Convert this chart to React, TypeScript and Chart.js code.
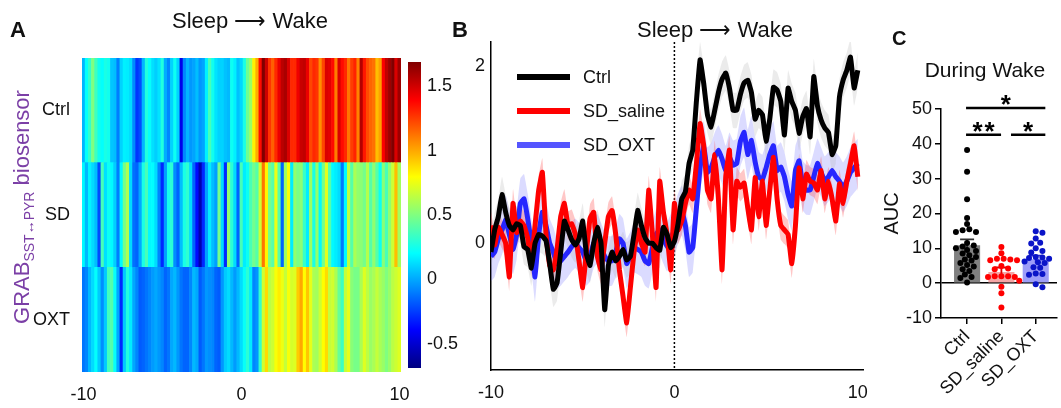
import React, { useEffect, useRef } from 'react';
import { Chart, registerables } from 'chart.js';

Chart.register(...registerables);

const FONT = "'Liberation Sans', Arial, Helvetica, sans-serif";
Chart.defaults.font.family = FONT;
Chart.defaults.color = '#111';

// ---------- data ----------
const timeS = Array.from({ length: 101 }, (_, i) => Math.round((-10 + i * 0.2) * 10) / 10);

const ctrlTrace = [
  -0.1, 0.15, 0.3, 0.55, 0.35, 0.2, 0.15, 0.22, 0.2, -0.04,
  -0.07, -0.28, 0.0, 0.1, 0.08, 0.03, -0.23, -0.52, -0.45, -0.1,
  0.25, 0.15, 0.04, -0.02, 0.05, 0.25, -0.12, -0.25, 0.0, 0.18,
  0.0, -0.75, -0.25, -0.1, -0.2, -0.15, -0.07, -0.19, -0.15, 0.1,
  0.37, 0.2, 0.06, 0.0, 0.0, -0.05, -0.08, 0.18, 0.1, -0.05,
  0.02, 0.22, 0.5, 0.58, 0.9, 1.05, 1.6, 2.07, 1.8, 1.45,
  1.31, 1.5, 1.7, 1.85, 1.92, 1.75, 1.5, 1.5, 1.68, 1.81,
  1.84, 1.7, 1.4, 1.5, 1.45, 1.15, 1.4, 1.76, 1.73, 1.6,
  1.22, 1.75, 1.6, 1.5, 1.24, 1.43, 1.52, 1.2, 1.88, 1.55,
  1.39, 1.3, 1.25, 1.0, 1.1, 1.65, 1.84, 1.95, 2.1, 1.75,
  1.95,
];
const salineTrace = [
  0.2, -0.02, 0.18, 0.1, 0.0, -0.38, 0.45, 0.12, 0.25, 0.2,
  0.06, -0.22, 0.2, 0.6, 0.8, 0.1, -0.25, -0.3, -0.07, 0.3,
  0.45, 0.2, 0.22, 0.1, -0.2, -0.5, -0.1, 0.28, 0.35, -0.15,
  -0.3, 0.0, 0.3, 0.37, 0.1, -0.3, -0.6, -0.9, -0.5, -0.1,
  0.15, 0.0, -0.1, 0.6, 0.1, -0.5, 0.7, 0.35, 0.1, -0.3,
  0.45, 0.15, 0.25, 0.45, 0.6, 0.5, 0.9, 1.35, 1.1, 0.6,
  0.5, 1.0, 0.5, -0.3, 0.75, 1.05, 0.15, 0.7, 0.63, 0.68,
  0.4, 0.15, 0.74, 0.3, 0.7, 0.2, 0.6, 0.97, 0.5, 0.2,
  0.15, 0.1, -0.23, 0.2, 0.85, 0.5, 0.78, 0.7, 0.68, 0.6,
  0.82, 0.5, 0.7, 0.5, 0.25, 0.67, 0.45, 0.7, 0.9, 1.1,
  0.75,
];
const oxtTrace = [
  -0.15, -0.1, 0.05, 0.15, 0.26, 0.1, -0.07, 0.1, 0.45, 0.5,
  0.28, 0.0, -0.38, 0.1, 0.35, 0.2, 0.0, -0.1, -0.23, -0.2,
  -0.15, -0.1, -0.04, 0.0, -0.05, -0.1, -0.2, -0.15, 0.0, 0.05,
  -0.05, -0.15, -0.2, -0.2, -0.1, 0.05, 0.0, -0.23, -0.15, -0.05,
  -0.07, -0.1, -0.2, -0.23, -0.05, 0.1, 0.15, 0.05, -0.04, 0.05,
  0.15, 0.28, 0.37, 0.2, -0.1, -0.05, 0.4, 0.85, 1.1, 0.8,
  0.85, 0.97, 1.05, 0.95, 0.82, 0.97, 0.88, 0.9, 1.15, 1.25,
  1.0, 1.16, 0.92, 0.75, 0.72, 0.85, 1.0, 1.1, 0.82, 0.86,
  0.75, 0.55, 0.42, 0.82, 0.93, 0.65, 0.6, 0.6, 0.75, 0.9,
  0.8, 0.7, 0.75, 0.82, 0.75, 0.7, 0.63, 0.7, 0.8, 0.85,
  0.9,
];
const semCtrl = 0.2;
const semSaline = 0.16;
const semOxt = 0.28;

// heatmap cells (same time bins as the traces)
const heatCtrl = [
  0.03, 0.21, 0.32, 0.5, 0.35, 0.24, 0.21, 0.26, 0.24, 0.07,
  0.05, -0.1, 0.1, 0.17, 0.16, 0.12, -0.07, -0.27, -0.22, 0.03,
  0.28, 0.21, 0.13, 0.09, 0.14, 0.28, 0.01, -0.08, 0.1, 0.23,
  0.1, -0.44, -0.08, 0.03, -0.04, -0.01, 0.05, -0.04, -0.01, 0.17,
  0.37, 0.24, 0.14, 0.1, 0.1, 0.06, 0.04, 0.23, 0.17, 0.06,
  0.11, 0.26, 0.46, 0.56, 0.83, 0.99, 1.37, 1.7, 1.51, 1.27,
  1.17, 1.3, 1.44, 1.55, 1.59, 1.48, 1.3, 1.3, 1.43, 1.52,
  1.54, 1.44, 1.23, 1.3, 1.27, 1.06, 1.23, 1.48, 1.46, 1.37,
  1.1, 1.48, 1.37, 1.3, 1.12, 1.25, 1.31, 1.09, 1.57, 1.34,
  1.22, 1.16, 1.13, 0.95, 1.02, 1.4, 1.54, 1.62, 1.72, 1.48,
  1.62,
];
const heatSd = [
  0.19, 0.04, 0.18, 0.12, 0.05, -0.22, 0.37, 0.13, 0.23, 0.19,
  0.09, -0.1, 0.19, 0.47, 0.61, 0.12, -0.13, -0.16, 0.0, 0.26,
  0.37, 0.19, 0.2, 0.12, -0.09, -0.3, -0.02, 0.25, 0.3, -0.06,
  -0.16, 0.05, 0.26, 0.31, 0.12, -0.16, -0.37, -0.58, -0.3, -0.02,
  0.16, 0.05, -0.02, 0.47, 0.12, -0.3, 0.54, 0.3, 0.12, -0.16,
  0.37, 0.16, 0.23, 0.37, 0.47, 0.4, 0.68, 1.12, 0.82, 0.47,
  0.4, 0.75, 0.4, -0.16, 0.58, 0.79, 0.16, 0.54, 0.49, 0.53,
  0.33, 0.16, 0.57, 0.26, 0.54, 0.19, 0.47, 0.73, 0.4, 0.19,
  0.16, 0.12, -0.11, 0.19, 0.65, 0.4, 0.6, 0.54, 0.53, 0.47,
  0.62, 0.4, 0.54, 0.4, 0.23, 0.52, 0.37, 0.54, 0.68, 0.95,
  0.58,
];
const heatOxt = [
  -0.12, -0.08, 0.04, 0.12, 0.21, 0.08, -0.06, 0.08, 0.36, 0.4,
  0.22, 0.0, -0.3, 0.08, 0.28, 0.16, 0.0, -0.08, -0.18, -0.16,
  -0.12, -0.08, -0.03, 0.0, -0.04, -0.08, -0.16, -0.12, 0.0, 0.04,
  -0.04, -0.12, -0.16, -0.16, -0.08, 0.04, 0.0, -0.18, -0.12, -0.04,
  -0.06, -0.08, -0.16, -0.18, -0.04, 0.08, 0.12, 0.04, -0.03, 0.04,
  0.12, 0.22, 0.3, 0.16, -0.08, -0.04, 0.32, 0.68, 0.88, 0.64,
  0.68, 0.78, 0.84, 0.76, 0.66, 0.78, 0.7, 0.72, 0.92, 1.0,
  0.8, 0.93, 0.74, 0.6, 0.58, 0.68, 0.8, 0.88, 0.66, 0.69,
  0.6, 0.44, 0.34, 0.66, 0.74, 0.52, 0.48, 0.48, 0.6, 0.72,
  0.64, 0.56, 0.6, 0.66, 0.6, 0.56, 0.5, 0.56, 0.64, 0.68,
  0.72,
];

const heatRowLabels = ['Ctrl', 'SD', 'OXT'];
const heatRows = [heatCtrl, heatSd, heatOxt];
const cbMin = -0.69;
const cbMax = 1.69;
const cbTicks = [-0.5, 0, 0.5, 1, 1.5];
const heatXTicks = [-10, 0, 10];
const lineXTicks = [-10, 0, 10];
const lineYTicks = [0, 2];

const aucGroups = ['Ctrl', 'SD_saline', 'SD_OXT'];
const aucCtrl = [38.2, 32, 24.1, 18.7, 17, 15.5, 14.7, 14.7, 15.2, 11.5, 10.8, 10.5, 10, 9.5, 9.2, 8.5, 8, 7.5, 6.8, 6.5, 5.8, 5.2, 4.8, 4, 3.5, 2.5, 1.8, 1.5, 0.2];
const aucSaline = [10.4, 8.6, 7, 6.8, 6.6, 6.6, 7, 4.9, 4.2, 4, 2, 2, 1.8, 1.8, 2, 0.7, -1, -2.9, -7];
const aucOxt = [14.9, 14.5, 12.8, 11.6, 11.4, 10, 9.2, 8.8, 7.5, 7.2, 7.0, 7.4, 6.2, 6.0, 5.8, 4.6, 4.4, 2.8, 2.4, 2.6, -0.3, -1.2];
const aucMean = [10.9, 3.2, 6.9];
const aucSem = [1.7, 1.3, 1.0];
const aucYTicksStep = 10;

// ---------- helpers ----------
function jetRGB(f: number) {
  const c = (x: number) => Math.max(0, Math.min(1, x));
  const r = c(1.5 - Math.abs(4 * f - 3));
  const g = c(1.5 - Math.abs(4 * f - 2));
  const b = c(1.5 - Math.abs(4 * f - 1));
  return `rgb(${Math.round(r * 255)},${Math.round(g * 255)},${Math.round(b * 255)})`;
}
function jetValue(v: number) {
  const f = Math.max(0, Math.min(1, (v - cbMin) / (cbMax - cbMin)));
  return jetRGB(f);
}

function swarm(values: number[], center: number, pxX: number, pxY: number, minDist: number) {
  const order = values.map((_, i) => i).sort((a, b) => values[b] - values[a]);
  const placed: { x: number; y: number }[] = [];
  const out: { x: number; y: number }[] = new Array(values.length);
  const step = 0.065;
  for (const i of order) {
    const py = values[i] * pxY;
    let chosen = 0;
    for (let k = 0; k < 40; k++) {
      const off = (k === 0 ? 0 : (k % 2 === 1 ? 1 : -1) * Math.ceil(k / 2)) * step;
      const px = off * pxX;
      const ok = placed.every((p) => (p.x - px) ** 2 + (p.y - py) ** 2 >= minDist * minDist);
      if (ok) { chosen = off; break; }
    }
    placed.push({ x: chosen * pxX, y: py });
    out[i] = { x: center + chosen, y: values[i] };
  }
  return out;
}

const setTicks = (vals: number[]) => (s: any) => { s.ticks = vals.map((v) => ({ value: v })); };

// ---------- configs ----------
function heatConfig(): any {
  return {
    type: 'bar',
    data: {
      datasets: [2, 1, 0].map((r) => ({
        label: heatRowLabels[r],
        data: timeS.map((t) => ({ x: t, y: 1 })),
        backgroundColor: heatRows[r].map(jetValue),
        borderWidth: 0,
        barPercentage: 1,
        categoryPercentage: 1,
      })),
    },
    options: {
      animation: false,
      responsive: false,
      events: [],
      layout: { padding: { left: 0, top: 58, right: 39, bottom: 6 } },
      plugins: { legend: { display: false }, tooltip: { enabled: false } },
      scales: {
        x: {
          type: 'linear', stacked: true, min: -10.1, max: 10.1, offset: false,
          grid: { display: false, drawTicks: false, offset: false }, border: { display: false },
          afterBuildTicks: setTicks(heatXTicks),
          ticks: { font: { size: 18 }, padding: 12, maxRotation: 0, autoSkip: false, color: '#111' },
          afterFit: (s: any) => { s.height = 30; },
        },
        y: {
          type: 'linear', stacked: true, min: 0, max: 3,
          grid: { display: false, drawTicks: false }, border: { display: false },
          afterBuildTicks: setTicks([0.5, 1.5, 2.5]),
          ticks: { font: { size: 18 }, padding: 12, color: '#111', callback: (v: number) => heatRowLabels[2 - Math.floor(v)] },
          afterFit: (s: any) => { s.width = 82; },
        },
      },
    },
  };
}

function colorbarConfig(): any {
  return {
    type: 'bar',
    data: {
      labels: ['cb'],
      datasets: [{
        data: [[cbMin, cbMax]],
        borderWidth: 0,
        barPercentage: 1,
        categoryPercentage: 1,
        backgroundColor: (c: any) => {
          const chart = c.chart;
          if (!chart.chartArea) return '#888';
          const y = chart.scales.y;
          const g = chart.ctx.createLinearGradient(0, y.getPixelForValue(cbMin), 0, y.getPixelForValue(cbMax));
          for (let i = 0; i <= 48; i++) g.addColorStop(i / 48, jetRGB(i / 48));
          return g;
        },
      }],
    },
    options: {
      animation: false,
      responsive: false,
      events: [],
      layout: { padding: { left: 8, top: 62, right: 0, bottom: 40 } },
      plugins: { legend: { display: false }, tooltip: { enabled: false } },
      scales: {
        x: { display: false },
        y: {
          position: 'right', min: cbMin, max: cbMax,
          grid: { display: false, drawTicks: false }, border: { display: false },
          afterBuildTicks: setTicks(cbTicks),
          ticks: { font: { size: 18 }, padding: 6, color: '#111', callback: (v: number) => String(v) },
          afterFit: (s: any) => { s.width = 51; },
        },
      },
    },
  };
}

const lineSeries = [
  { label: 'Ctrl', values: ctrlTrace, sem: semCtrl, color: '#000000', band: 'rgba(175,175,175,0.25)' },
  { label: 'SD_saline', values: salineTrace, sem: semSaline, color: '#ff0000', band: 'rgba(255,70,70,0.3)' },
  { label: 'SD_OXT', values: oxtTrace, sem: semOxt, color: '#2626ff', band: 'rgba(110,110,255,0.25)' },
];

const wakeMarker = {
  id: 'wakeMarker',
  beforeDatasetsDraw(chart: any) {
    const { ctx, chartArea, scales } = chart;
    const x = scales.x.getPixelForValue(0);
    ctx.save();
    ctx.strokeStyle = '#000';
    ctx.lineWidth = 1.5;
    ctx.setLineDash([2, 2]);
    ctx.beginPath();
    ctx.moveTo(x, chartArea.top);
    ctx.lineTo(x, chartArea.bottom);
    ctx.stroke();
    ctx.restore();
  },
};

const lineLegend = {
  id: 'lineLegend',
  afterDraw(chart: any) {
    const { ctx, chartArea } = chart;
    const items = chart.data.datasets.filter((d: any) => d.isMain);
    ctx.save();
    ctx.font = `18px ${FONT}`;
    ctx.textBaseline = 'middle';
    ctx.fillStyle = '#111';
    items.forEach((d: any, i: number) => {
      const y = chartArea.top + 35 + i * 34;
      const x0 = chartArea.left + 26;
      ctx.strokeStyle = d.legendColor;
      ctx.lineWidth = 6;
      ctx.beginPath();
      ctx.moveTo(x0, y);
      ctx.lineTo(x0 + 53, y);
      ctx.stroke();
      ctx.fillText(d.label, x0 + 66, y + 1);
    });
    ctx.restore();
  },
};

function lineConfig(): any {
  const mains = lineSeries.map((s, j) => ({
    label: s.label,
    isMain: true,
    legendColor: s.label === 'SD_OXT' ? '#5555ff' : s.color,
    data: timeS.map((t, i) => ({ x: t, y: s.values[i] })),
    borderColor: s.color,
    backgroundColor: s.color,
    borderWidth: 5,
    pointRadius: 0,
    tension: 0.1,
    fill: false,
    borderJoinStyle: 'round',
    order: j + 1,
  }));
  const bands: any[] = [];
  lineSeries.forEach((s, j) => {
    bands.push({
      label: s.label + ' upper',
      data: timeS.map((t, i) => ({ x: t, y: s.values[i] + s.sem })),
      borderWidth: 0,
      pointRadius: 0,
      tension: 0.1,
      backgroundColor: s.band,
      fill: '+1',
      order: 10 + j,
    });
    bands.push({
      label: s.label + ' lower',
      data: timeS.map((t, i) => ({ x: t, y: s.values[i] - s.sem })),
      borderWidth: 0,
      pointRadius: 0,
      tension: 0.1,
      fill: false,
      order: 10 + j,
    });
  });
  return {
    type: 'line',
    data: { datasets: [...mains, ...bands] },
    options: {
      animation: false,
      responsive: false,
      events: [],
      layout: { padding: { left: 0, top: 42, right: 13, bottom: 8 } },
      plugins: { legend: { display: false }, tooltip: { enabled: false } },
      scales: {
        x: {
          type: 'linear', min: -10, max: 10.3,
          grid: { display: false, drawTicks: false }, border: { display: true, color: '#000', width: 1.5 },
          afterBuildTicks: setTicks(lineXTicks),
          ticks: { font: { size: 18 }, padding: 12, maxRotation: 0, color: '#111' },
          afterFit: (s: any) => { s.height = 30; },
        },
        y: {
          type: 'linear', min: -1.43, max: 2.27,
          grid: { display: false, drawTicks: false }, border: { display: true, color: '#000', width: 1.5 },
          afterBuildTicks: setTicks(lineYTicks),
          ticks: { font: { size: 18 }, padding: 6, color: '#111' },
          afterFit: (s: any) => { s.width = 51; },
        },
      },
    },
    plugins: [wakeMarker, lineLegend],
  };
}

const barColors = ['#808080', '#f5a6a6', '#9d9df8'];
const dotColors = ['#000000', '#ff0000', '#0a14c8'];
const errColors = ['#333333', '#e00000', '#2a2ad0'];
const sigBrackets = [
  { from: -0.03, to: 2.28, y: 50.3, label: '*' },
  { from: -0.03, to: 0.99, y: 42.6, label: '**' },
  { from: 1.28, to: 2.28, y: 42.6, label: '*' },
];

const aucErrorBars = {
  id: 'aucErrorBars',
  afterDatasetDraw(chart: any, args: any) {
    if (args.index !== 0) return;
    const { ctx, scales } = chart;
    ctx.save();
    ctx.lineWidth = 1.8;
    aucMean.forEach((m, i) => {
      const cx = scales.x.getPixelForValue(i);
      const top = scales.y.getPixelForValue(m + aucSem[i]);
      const bot = scales.y.getPixelForValue(m - aucSem[i]);
      ctx.strokeStyle = errColors[i];
      ctx.beginPath();
      ctx.moveTo(cx, bot);
      ctx.lineTo(cx, top);
      ctx.moveTo(cx - 7, top);
      ctx.lineTo(cx + 7, top);
      ctx.stroke();
    });
    ctx.restore();
  },
};

const aucSig = {
  id: 'aucSig',
  afterDraw(chart: any) {
    const { ctx, scales } = chart;
    ctx.save();
    ctx.strokeStyle = '#000';
    ctx.fillStyle = '#000';
    ctx.lineWidth = 2.5;
    ctx.font = `bold 26px ${FONT}`;
    ctx.textAlign = 'center';
    ctx.textBaseline = 'alphabetic';
    sigBrackets.forEach((b) => {
      const x1 = scales.x.getPixelForValue(b.from);
      const x2 = scales.x.getPixelForValue(b.to);
      const y = scales.y.getPixelForValue(b.y);
      ctx.beginPath();
      ctx.moveTo(x1, y);
      ctx.lineTo(x2, y);
      ctx.stroke();
      const cx = (x1 + x2) / 2;
      if (b.label.length === 2) {
        ctx.fillText('*', cx - 6, y + 5);
        ctx.fillText('*', cx + 6, y + 5);
      } else {
        ctx.fillText('*', cx, y + 5);
      }
    });
    ctx.restore();
  },
};

function aucConfig(): any {
  const pxX = 35.5;
  const pxY = 3.48;
  const groups = [aucCtrl, aucSaline, aucOxt];
  return {
    type: 'bar',
    data: {
      datasets: [
        {
          type: 'bar',
          data: aucMean.map((m, i) => ({ x: i, y: m })),
          backgroundColor: barColors,
          borderWidth: 0,
          barPercentage: 0.76,
          categoryPercentage: 1,
          order: 5,
        },
        ...groups.map((vals, i) => ({
          type: 'scatter',
          data: swarm(vals, i, pxX, pxY, 5.6),
          pointRadius: 3,
          pointBackgroundColor: dotColors[i],
          pointBorderWidth: 0,
          order: 1,
        })),
      ],
    },
    options: {
      animation: false,
      responsive: false,
      events: [],
      layout: { padding: { left: 0, top: 109, right: 0, bottom: 10 } },
      plugins: { legend: { display: false }, tooltip: { enabled: false } },
      scales: {
        x: {
          type: 'linear', min: -0.76, max: 2.62, offset: false,
          grid: { display: true, drawOnChartArea: false, drawTicks: true, tickLength: 6, color: '#000', lineWidth: 1.5, offset: false },
          border: { display: true, color: '#000', width: 1.5 },
          afterBuildTicks: setTicks([0, 1, 2]),
          ticks: { font: { size: 18 }, minRotation: 45, maxRotation: 45, padding: 2, color: '#111', callback: (v: number) => aucGroups[v] },
          afterFit: (s: any) => { s.height = 80; },
        },
        y: {
          type: 'linear', min: -10, max: 50,
          grid: {
            display: true, drawOnChartArea: true, drawTicks: true, tickLength: 6, lineWidth: 1.5,
            color: (c: any) => (c.tick && c.tick.value === 0 ? '#000' : 'rgba(0,0,0,0)'),
            tickColor: '#000',
          },
          border: { display: true, color: '#000', width: 1.5 },
          ticks: { stepSize: aucYTicksStep, font: { size: 18 }, padding: 3, color: '#111' },
          title: { display: true, text: 'AUC', font: { size: 20 }, padding: { top: 0, bottom: 0 }, color: '#111' },
          afterFit: (s: any) => { s.width = 61; },
        },
      },
    },
    plugins: [aucErrorBars, aucSig],
  };
}

// ---------- components ----------
function ChartCanvas({ left, top, width, height, make }: any) {
  const ref = useRef<HTMLCanvasElement | null>(null);
  useEffect(() => {
    if (!ref.current) return;
    const chart = new Chart(ref.current, make());
    return () => chart.destroy();
  }, []);
  return (
    <canvas
      ref={ref}
      width={width}
      height={height}
      style={{ position: 'absolute', left, top, width, height }}
    />
  );
}

const txt = (extra: any) => ({
  position: 'absolute' as const,
  fontFamily: FONT,
  color: '#111',
  whiteSpace: 'nowrap' as const,
  ...extra,
});

export default function App() {
  return (
    <div style={{ position: 'absolute', left: 0, top: 0, width: 1061, height: 408, background: '#fff', overflow: 'hidden' }}>
      <ChartCanvas left={0} top={0} width={440} height={408} make={heatConfig} />
      <ChartCanvas left={400} top={0} width={72} height={408} make={colorbarConfig} />
      <ChartCanvas left={440} top={0} width={440} height={408} make={lineConfig} />
      <ChartCanvas left={880} top={0} width={181} height={408} make={aucConfig} />

      <div style={txt({ left: 10, top: 19, fontSize: 22, lineHeight: '22px', fontWeight: 'bold' })}>A</div>
      <div style={txt({ left: 452, top: 19, fontSize: 22, lineHeight: '22px', fontWeight: 'bold' })}>B</div>
      <div style={txt({ left: 892, top: 28, fontSize: 20, lineHeight: '20px', fontWeight: 'bold' })}>C</div>

      <div style={txt({ left: 130, width: 240, top: 10, fontSize: 22, lineHeight: '22px', textAlign: 'center' })}>Sleep ⟶ Wake</div>
      <div style={txt({ left: 595, width: 240, top: 19, fontSize: 22, lineHeight: '22px', textAlign: 'center' })}>Sleep ⟶ Wake</div>
      <div style={txt({ left: 895, width: 180, top: 59, fontSize: 21, lineHeight: '21px', textAlign: 'center' })}>During Wake</div>

      <div
        style={txt({
          left: 22, top: 207, fontSize: 22, lineHeight: '22px', color: '#7b3fa6',
          transform: 'translate(-50%, -50%) rotate(-90deg)',
        })}
      >
        GRAB<sub style={{ fontSize: 14, verticalAlign: 'sub', lineHeight: 0 }}>SST↔PYR</sub> biosensor
      </div>
    </div>
  );
}
